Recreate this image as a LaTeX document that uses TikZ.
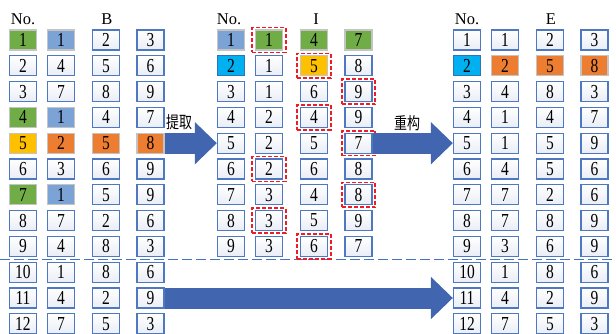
\documentclass[tikz,border=0pt]{standalone}
\usepackage{fontspec}
\setmainfont{Liberation Serif}
\newfontfamily\cjk{Noto Sans CJK SC}
\usetikzlibrary{arrows.meta,fit}
\definecolor{bordblue}{HTML}{4F78C2}
\definecolor{shadeblue}{HTML}{E9EDF6}
\definecolor{cgreen}{HTML}{70AD47}
\definecolor{cblue}{HTML}{7BA3D6}
\definecolor{cyellow}{HTML}{FFC000}
\definecolor{corange}{HTML}{ED7D31}
\definecolor{ccyan}{HTML}{00B0F0}
\definecolor{cgray}{HTML}{C4C4C4}
\definecolor{cyanborder}{HTML}{2E75B6}
\definecolor{arrowblue}{HTML}{4166AF}
\definecolor{sepblue}{HTML}{4472C4}
\definecolor{dashred}{HTML}{EE1C24}
\newcommand\sv[1]{\scalebox{1}[1.28]{#1}}
\newcommand\placecell[6]{%
  \pgfmathsetmacro\cx{#2+{0,38,83,127.5}[#4-1]}%
  \pgfmathsetmacro\cy{40+(#3-1)*25.8}%
  \node[#5] (#1-#3-#4) at (\cx,\cy) {\sv{#6}};}
\begin{document}
\begin{tikzpicture}[x=1pt,y=-1pt,
  cellbase/.style={draw, line width=1.3pt, minimum width=27pt, minimum height=20pt,
    inner sep=0pt, font=\fontsize{15.5}{15.5}\selectfont},
  wc/.style={cellbase, draw=bordblue, top color=white, bottom color=shadeblue},
  gc/.style={cellbase, draw=cgray, fill=cgreen},
  bc/.style={cellbase, draw=cgray, fill=cblue},
  yc/.style={cellbase, draw=cgray, fill=cyellow},
  oc/.style={cellbase, draw=cgray, fill=corange},
  cc/.style={cellbase, draw=cyanborder, fill=ccyan},
  hdr/.style={font=\fontsize{16.5}{16.5}\selectfont, inner sep=0pt, anchor=base},
  reddash/.style={draw=dashred, line width=1.6pt, dash pattern=on 4pt off 2pt,
    inner xsep=2.6pt, inner ysep=1.8pt},
  bigarrow/.style={draw=arrowblue, line width=21pt,
    -{Triangle[length=22pt,width=41pt,fill=arrowblue]}},
  cjklabel/.style={font=\cjk\fontsize{13}{13}\selectfont, inner sep=0pt},
  sepline/.style={draw=sepblue, line width=1.3pt, dash pattern=on 10pt off 4pt}]
\useasboundingbox (0,0) rectangle (616,334);
\clip (0,0) rectangle (616,334);

% headers
\node[hdr] (hL1) at (23,25) {No.};
\node[hdr] (hL3) at (107,25) {B};
\node[hdr] (hM1) at (229,25) {No.};
\node[hdr] (hM3) at (316,25) {I};
\node[hdr] (hR1) at (467,25) {No.};
\node[hdr] (hR3) at (551,25) {E};

% separator
\draw[sepline] (0,259.5) -- (616,259.5);

% left table B
\foreach \r/\c/\s/\t in {
1/1/gc/1, 1/2/bc/1, 1/3/wc/2, 1/4/wc/3,
2/1/wc/2, 2/2/wc/4, 2/3/wc/5, 2/4/wc/6,
3/1/wc/3, 3/2/wc/7, 3/3/wc/8, 3/4/wc/9,
4/1/gc/4, 4/2/bc/1, 4/3/wc/4, 4/4/wc/7,
5/1/yc/5, 5/2/oc/2, 5/3/oc/5, 5/4/oc/8,
6/1/wc/6, 6/2/wc/3, 6/3/wc/6, 6/4/wc/9,
7/1/gc/7, 7/2/bc/1, 7/3/wc/5, 7/4/wc/9,
8/1/wc/8, 8/2/wc/7, 8/3/wc/2, 8/4/wc/6,
9/1/wc/9, 9/2/wc/4, 9/3/wc/8, 9/4/wc/3,
10/1/wc/10, 10/2/wc/1, 10/3/wc/8, 10/4/wc/6,
11/1/wc/11, 11/2/wc/4, 11/3/wc/2, 11/4/wc/9,
12/1/wc/12, 12/2/wc/7, 12/3/wc/5, 12/4/wc/3}
  {\placecell{L}{23}{\r}{\c}{\s}{\t}}

% middle table I
\foreach \r/\c/\s/\t in {
1/1/bc/1, 1/2/gc/1, 1/3/gc/4, 1/4/gc/7,
2/1/cc/2, 2/2/wc/1, 2/3/yc/5, 2/4/wc/8,
3/1/wc/3, 3/2/wc/1, 3/3/wc/6, 3/4/wc/9,
4/1/wc/4, 4/2/wc/2, 4/3/wc/4, 4/4/wc/9,
5/1/wc/5, 5/2/wc/2, 5/3/wc/5, 5/4/wc/7,
6/1/wc/6, 6/2/wc/2, 6/3/wc/6, 6/4/wc/8,
7/1/wc/7, 7/2/wc/3, 7/3/wc/4, 7/4/wc/8,
8/1/wc/8, 8/2/wc/3, 8/3/wc/5, 8/4/wc/9,
9/1/wc/9, 9/2/wc/3, 9/3/wc/6, 9/4/wc/7}
  {\placecell{M}{231}{\r}{\c}{\s}{\t}}

% right table E
\foreach \r/\c/\s/\t in {
1/1/wc/1, 1/2/wc/1, 1/3/wc/2, 1/4/wc/3,
2/1/cc/2, 2/2/oc/2, 2/3/oc/5, 2/4/oc/8,
3/1/wc/3, 3/2/wc/4, 3/3/wc/8, 3/4/wc/3,
4/1/wc/4, 4/2/wc/1, 4/3/wc/4, 4/4/wc/7,
5/1/wc/5, 5/2/wc/1, 5/3/wc/5, 5/4/wc/9,
6/1/wc/6, 6/2/wc/4, 6/3/wc/5, 6/4/wc/6,
7/1/wc/7, 7/2/wc/7, 7/3/wc/2, 7/4/wc/6,
8/1/wc/8, 8/2/wc/7, 8/3/wc/8, 8/4/wc/9,
9/1/wc/9, 9/2/wc/3, 9/3/wc/6, 9/4/wc/9,
10/1/wc/10, 10/2/wc/1, 10/3/wc/8, 10/4/wc/6,
11/1/wc/11, 11/2/wc/4, 11/3/wc/2, 11/4/wc/9,
12/1/wc/12, 12/2/wc/7, 12/3/wc/5, 12/4/wc/3}
  {\placecell{R}{467}{\r}{\c}{\s}{\t}}

% red dashed highlights
\foreach \p in {1-2,2-3,3-4,4-3,5-4,6-2,7-4,8-2,9-3}
  {\node[reddash, fit=(M-\p)] (rd-\p) {};}

% arrows
\draw[bigarrow] (L-5-4.east) -- (M-5-1.west);
\draw[bigarrow] (M-5-4.east) -- (R-5-1.west);
\draw[bigarrow] (L-11-4.east) -- (R-11-1.west);

% labels
\node[cjklabel] (lab1) at (179,122) {\sv{提取}};
\node[cjklabel] (lab2) at (407,123) {\sv{重构}};
\end{tikzpicture}
\end{document}
